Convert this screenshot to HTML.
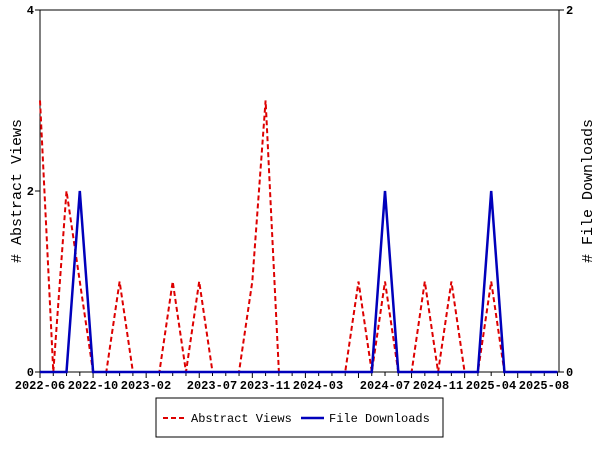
<!DOCTYPE html>
<html><head><style>body{margin:0;background:#fff}</style></head><body>
<svg width="600" height="450" xmlns="http://www.w3.org/2000/svg" font-family="Liberation Mono, DejaVu Sans Mono, monospace" font-size="12" font-weight="bold">
<rect width="600" height="450" fill="#fff"/>
<g stroke="#000" fill="none">
<line x1="40" y1="10" x2="40" y2="372"/>
<line x1="559" y1="10" x2="559" y2="372"/>
<line x1="40" y1="10" x2="559" y2="10"/>
<line x1="40" y1="372" x2="559" y2="372"/>
<line x1="35" y1="10" x2="40" y2="10"/><line x1="35" y1="191" x2="40" y2="191"/><line x1="35" y1="372" x2="40" y2="372"/>
<line x1="559" y1="10" x2="564" y2="10"/><line x1="559" y1="372" x2="564" y2="372"/>
</g>
<g id="tk" stroke="#000"></g>
<g text-anchor="end"><text x="34" y="14">4</text><text x="34" y="195">2</text><text x="34" y="376">0</text></g>
<g><text x="566" y="14">2</text><text x="566" y="376">0</text></g>
<g text-anchor="middle">
<text x="40" y="389">2022-06</text><text x="93" y="389">2022-10</text><text x="146" y="389">2023-02</text>
<text x="212" y="389">2023-07</text><text x="265" y="389">2023-11</text><text x="318" y="389">2024-03</text>
<text x="385" y="389">2024-07</text><text x="438" y="389">2024-11</text><text x="491" y="389">2025-04</text><text x="544" y="389">2025-08</text>
</g>
<text transform="translate(21,191) rotate(-90)" text-anchor="middle" font-size="15" font-weight="normal">#  Abstract Views</text>
<text transform="translate(592,191) rotate(-90)" text-anchor="middle" font-size="15" font-weight="normal">#  File Downloads</text>
<polyline id="red" fill="none" stroke="#dd0000" stroke-width="2" stroke-dasharray="5,3"/>
<polyline id="blue" fill="none" stroke="#0000bb" stroke-width="2.5"/>
<rect x="156" y="398" width="287" height="39" fill="#fff" stroke="#000"/>
<line x1="163" y1="418" x2="186" y2="418" stroke="#dd0000" stroke-width="2" stroke-dasharray="5,3"/>
<text x="191" y="422" font-weight="normal">Abstract Views</text>
<line x1="301" y1="418" x2="324" y2="418" stroke="#0000bb" stroke-width="2.5"/>
<text x="329" y="422" font-weight="normal">File Downloads</text>
</svg>
<script>
var s=13.27,x0=40,n=40;
var av=new Array(n).fill(0),dl=new Array(n).fill(0);
av[0]=3;av[2]=2;av[3]=1;av[6]=1;av[10]=1;av[12]=1;av[16]=1;av[17]=3;av[24]=1;av[26]=1;av[29]=1;av[31]=1;av[34]=1;
dl[3]=1;dl[26]=1;dl[34]=1;
function pts(a,k){return a.map(function(v,i){var x=Math.min(x0+i*s,559);return x.toFixed(1)+","+(372-v*k).toFixed(1)}).join(" ")}
document.getElementById("red").setAttribute("points",pts(av,90.5));
document.getElementById("blue").setAttribute("points",pts(dl,181));
var g=document.getElementById("tk"),h="";
for(var i=0;i<n;i++){var x=x0+i*s;if(x>559)break;h+='<line x1="'+x+'" y1="372" x2="'+x+'" y2="'+(i%4==0?378:376)+'"/>';}
g.innerHTML=h;
</script>
</body></html>
